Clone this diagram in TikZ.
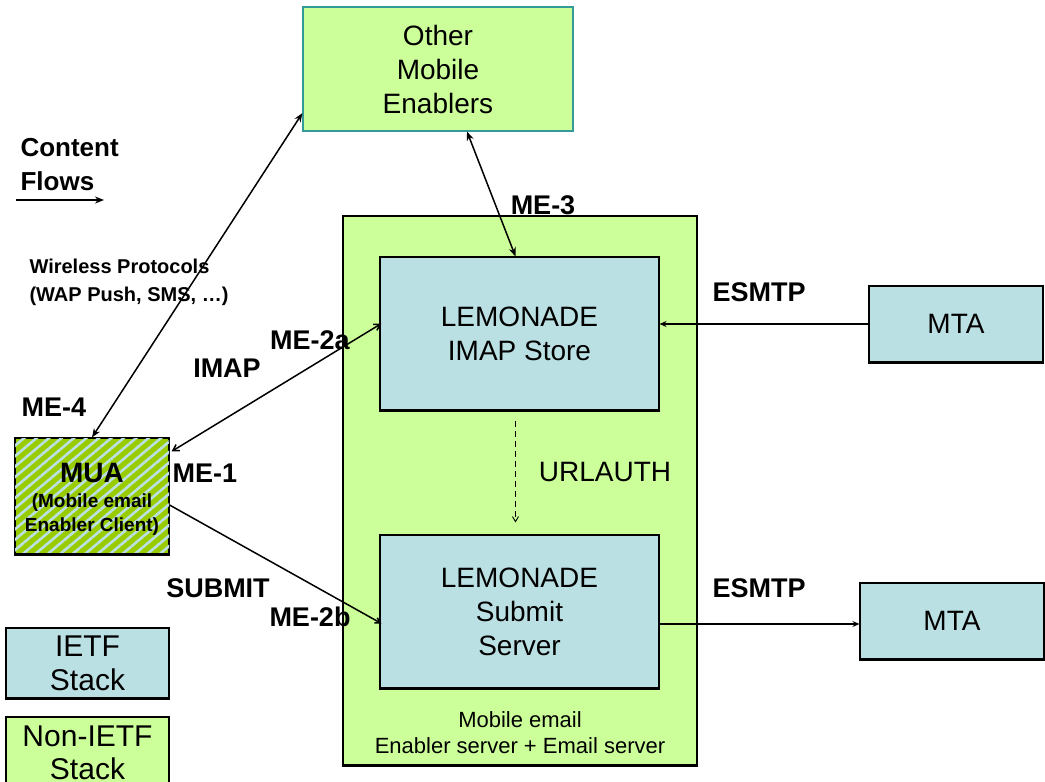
\documentclass[tikz,border=0pt]{standalone}
\usepackage{fontspec}
\setmainfont{Liberation Sans}
\usetikzlibrary{arrows.meta,calc,patterns.meta}
\definecolor{stackgreen}{RGB}{204,255,153}
\definecolor{stackblue}{RGB}{187,224,227}
\definecolor{muagreen}{RGB}{153,204,0}
\definecolor{tealedge}{RGB}{51,153,153}
\tikzset{
  big/.style={font=\fontsize{28}{34}\selectfont},
  lbl/.style={font=\fontsize{27}{30}\selectfont\bfseries},
  box/.style={draw=black, line width=1.1pt, inner sep=0pt, align=center, big},
  greenbox/.style={box, fill=stackgreen},
  bluebox/.style={box, fill=stackblue},
  link/.style={line width=1.5pt},
  bighead/.style={link, {Stealth[length=9pt,width=7pt]}-{Stealth[length=9pt,width=7pt]}},
  barb/.style={-{Straight Barb[length=5pt,width=6pt]}},
}
\begin{document}
\begin{tikzpicture}[x=1pt,y=-1pt]
\useasboundingbox (0,0) rectangle (1045,782);

% enablers and server frame
\node[greenbox, draw=tealedge, minimum width=270, minimum height=124] (ome) at (438,69) {Other\\Mobile\\Enablers};
\node[greenbox, minimum width=354, minimum height=549] (cont) at (520,490.5) {};
\node[font=\fontsize{22}{26}\selectfont, align=center] (contlbl) at (520,733) {Mobile email\\Enabler server + Email server};

% IETF components
\node[bluebox, minimum width=279, minimum height=153] (imap) at (519.5,333.5) {LEMONADE\\IMAP Store};
\node[bluebox, minimum width=279, minimum height=153] (submit) at (519.5,611.5) {LEMONADE\\Submit\\Server};
\node[bluebox, minimum width=174, minimum height=76] (mta1) at (956,324) {MTA};
\node[bluebox, minimum width=184, minimum height=76] (mta2) at (952,621) {MTA};

% client
\node[box, minimum width=154, minimum height=116, fill=muagreen,
      postaction={pattern={Lines[angle=40,distance=8pt,line width=2.6pt]}, pattern color=stackblue}] (mua) at (92,496) {};
\node[align=center, font=\fontsize{19}{24}\selectfont\bfseries] (muatext) at (92,499)
  {{\fontsize{28}{28}\selectfont MUA}\\[1pt](Mobile email\\Enabler Client)};

% legend
\node[bluebox, font=\fontsize{30}{34}\selectfont, minimum width=163, minimum height=70] (ietf) at (87.5,663) {IETF\\Stack};
\node[greenbox, font=\fontsize{30}{33}\selectfont, minimum width=163, minimum height=72] (nonietf) at (87.5,753) {Non-IETF\\Stack};

% heavier lower edges
\foreach \n in {mta1,mta2,ietf,mua,cont,imap,submit}
  \draw[line width=2.4pt] (\n.south west) -- (\n.south east);

% content flow key
\node[anchor=west, align=left, font=\fontsize{26}{34}\selectfont\bfseries] (cflows) at (17,165) {Content\\Flows};
\coordinate (cfa) at (16,200);
\coordinate (cfb) at (104,200);
\draw[line width=2pt, -{Stealth[length=9pt,width=7pt]}] (cfa) -- (cfb);

\node[anchor=west, align=left, font=\fontsize{20}{28}\selectfont\bfseries] (wproto) at (26,282) {Wireless Protocols\\(WAP Push, SMS, \dots)};

% connectors
\coordinate (out2) at ($(mta2.west)+(0,3)$);
\draw[bighead] (mua.north) -- (ome.198);
\draw[bighead] ($(ome.south)+(29,0)$) -- ($(imap.north)+(-4,0)$);
\draw[link, {Straight Barb[length=6pt,width=7pt]}-{Straight Barb[length=6pt,width=7pt]}] ($(mua.north east)+(2,14)$) -- ($(imap.west)+(2,-10)$);
\draw[link, barb] ($(mua.east)+(0,9)$) -- ($(submit.west)+(2,12)$);
\draw[link, -{Stealth[length=7pt,width=6pt]}] (mta1.west) -- (imap.east |- mta1.west);
\draw[link, -{Stealth[length=7pt,width=6pt]}] (submit.east |- out2) -- (out2);
\draw[line width=0.9pt, dashed, dash pattern=on 6pt off 4pt, barb] ($(imap.south)+(-4,10)$) -- ($(submit.north)+(-4,-12)$);

% labels
\node[lbl] (lme3) at (543,205) {ME-3};
\node[lbl] (lesmtp1) at (759,292) {ESMTP};
\node[lbl] (lesmtp2) at (759,588) {ESMTP};
\node[lbl] (lme2a) at (310,340) {ME-2a};
\node[lbl] (limap) at (227,368) {IMAP};
\node[lbl] (lme4) at (54,407) {ME-4};
\node[lbl] (lme1) at (205,473) {ME-1};
\node[big] (lurl) at (605,472) {URLAUTH};
\node[lbl] (lsubmit) at (218,588) {SUBMIT};
\node[lbl] (lme2b) at (310,617) {ME-2b};
\end{tikzpicture}
\end{document}
